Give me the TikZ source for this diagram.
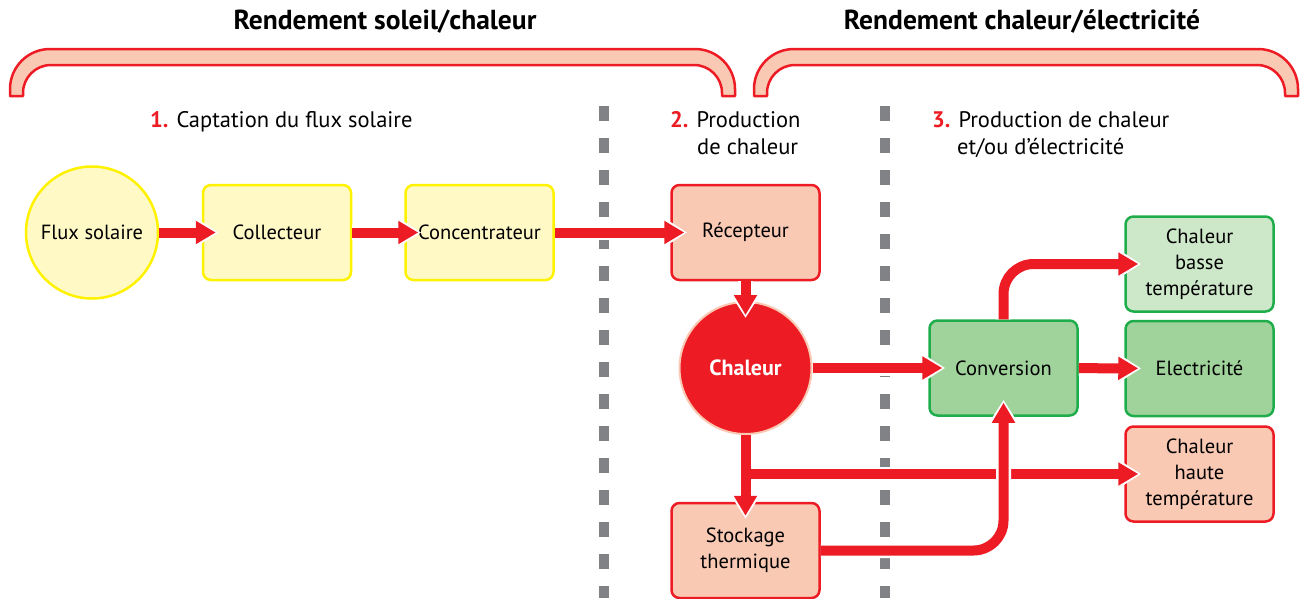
\documentclass[tikz,border=0pt]{standalone}
\usepackage{fontspec}
\setmainfont{PT Sans}
\usetikzlibrary{arrows.meta}
\definecolor{flowred}{HTML}{ED1C24}
\definecolor{salmon}{HTML}{F9C9B4}
\definecolor{sunline}{HTML}{FFF200}
\definecolor{sunfill}{HTML}{FFF9C6}
\definecolor{convline}{HTML}{1FAD4B}
\definecolor{convfill}{HTML}{A0D39B}
\definecolor{lowfill}{HTML}{CDE7C9}
\definecolor{sepgray}{HTML}{808285}
\begin{document}
\begin{tikzpicture}[x=1pt,y=-1pt,
  txt/.style={font=\fontsize{20.5}{26}\selectfont},
  box/.style={txt,draw,line width=2.5pt,rounded corners=8pt,minimum width=148pt,minimum height=95pt,align=center},
  sunbox/.style={box,draw=sunline,fill=sunfill},
  hotbox/.style={box,draw=flowred,fill=salmon},
  convbox/.style={box,draw=convline,fill=convfill},
  flowbase/.style={draw=flowred,line width=10pt,-{Triangle[length=20pt,width=22pt]},shorten >=-14pt},
  halo/.style={preaction={draw=white,line width=15pt,-{Triangle[length=26pt,width=31pt]},shorten >=-17pt,#1}},halo/.default=,
  flow/.style={flowbase,halo},
  bracket/.style={draw=flowred,fill=salmon,line width=2.5pt,line join=round},
  stagetxt/.style={font=\fontsize{22.5}{27}\selectfont,inner sep=0pt,align=left}]
\useasboundingbox (0,0) rectangle (1300,598);
\filldraw[bracket] (10,96) [rounded corners=40pt] -- (10,49) -- (735,49) [sharp corners] -- (735,96) -- (722,96) [rounded corners=28pt] -- (722,65) -- (23,65) [sharp corners] -- (23,96) -- cycle;
\filldraw[bracket] (754,96) [rounded corners=40pt] -- (754,49) -- (1298,49) [sharp corners] -- (1298,96) -- (1285,96) [rounded corners=28pt] -- (1285,65) -- (767,65) [sharp corners] -- (767,96) -- cycle;
\node[font=\fontsize{27.5}{31}\selectfont\bfseries] (t1) at (385,22) {Rendement soleil/chaleur};
\node[font=\fontsize{27.5}{31}\selectfont\bfseries] (t2) at (1022,22) {Rendement chaleur/électricité};
\node[stagetxt,anchor=north west] (s1) at (150,111) {\textcolor{flowred}{\bfseries 1.} Captation du flux solaire};
\node[stagetxt,anchor=north west] (s2) at (670,111) {\textcolor{flowred}{\bfseries 2.} Production\\\hspace*{27pt}de chaleur};
\node[stagetxt,anchor=north west] (s3) at (932,111) {\textcolor{flowred}{\bfseries 3.} Production de chaleur\\\hspace*{25pt}et/ou d'électricité};
\foreach \sx in {604,885}{\draw[sepgray,line width=10pt,dash pattern=on 15pt off 17pt] (\sx,106) -- (\sx,598);}
\node[txt,circle,draw=sunline,fill=sunfill,line width=2.5pt,minimum size=132pt] (sun) at (92,232.5) {Flux solaire};
\node[sunbox] (coll) at (277,232.5) {Collecteur};
\node[sunbox] (conc) at (479.5,232.5) {Concentrateur};
\node[hotbox] (rec) at (745.5,232.5) {Récepteur};
\node[txt,circle,draw=salmon,fill=flowred,line width=2pt,minimum size=132pt,text=white,font=\fontsize{22}{26}\selectfont\bfseries] (heat) at (745.5,368) {Chaleur};
\node[hotbox] (store) at (745.5,550.5) {Stockage\\thermique};
\node[convbox] (conv) at (1003.5,368) {Conversion};
\node[box,draw=convline,fill=lowfill] (low) at (1199.5,264) {Chaleur\\basse\\température};
\node[convbox] (elec) at (1199.5,368.5) {Electricité};
\node[hotbox] (high) at (1199.5,474) {Chaleur\\haute\\température};
\coordinate (split) at (heat.south |- high.west);
\draw[flow] (sun) -- (coll);
\draw[flow] (coll) -- (conc);
\draw[flow] (conc) -- (rec);
\draw[flow] (rec) -- (heat);
\draw[flow] (heat) -- (conv);
\draw[flow] (heat) -- (store);
\draw[flowbase,halo={shorten <=7pt}] (split) -- (high);
\draw[flow,rounded corners=30pt] (store) -- (store -| conv) -- (conv);
\draw[flow,rounded corners=30pt] (conv) -- (conv |- low) -- (low);
\draw[flow] (conv) -- (elec);
\end{tikzpicture}
\end{document}
